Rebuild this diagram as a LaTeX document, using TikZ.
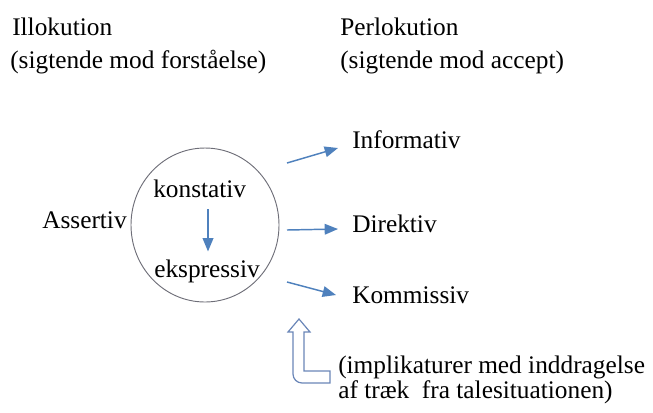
\documentclass[tikz,border=0pt]{standalone}
\usepackage{fontspec}
\setmainfont{Liberation Serif}
\usetikzlibrary{arrows.meta}
\definecolor{officeblue}{HTML}{4F81BD}
\definecolor{ringgray}{HTML}{6E6E78}
\definecolor{hollowblue}{HTML}{6A86B8}

\begin{document}
\begin{tikzpicture}[x=0.75pt,y=0.75pt,yscale=-1,xscale=1,
    txt/.style={anchor=base west,inner sep=0.75pt,font=\fontsize{19}{23}\selectfont},
    blarr/.style={draw=officeblue,line width=1.1pt,-{Triangle[length=10pt,width=8pt]}}]
        \useasboundingbox (0,0) rectangle (653,412);
        % Text Node
        \node [txt] (illo) at (11,35) {Illokution};
        % Text Node
        \node [txt] (illoSub) at (9,68) {(sigtende mod forståelse)};
        % Text Node
        \node [txt] (perlo) at (339,35) {Perlokution};
        % Text Node
        \node [txt] (perloSub) at (339,68) {(sigtende mod accept)};
        %Shape: Ellipse
        \draw [ringgray,line width=0.7pt] (205,225) ellipse (74 and 77);
        % Text Node
        \node [txt] (assertiv) at (41,228) {Assertiv};
        % Text Node
        \node [txt] (kon) at (152,197) {konstativ};
        % Text Node
        \node [txt] (eks) at (153,277) {ekspressiv};
        %Straight Lines
        \draw [blarr,shorten <=8pt,shorten >=5pt] (kon.south -| 208,0) -- (eks.north -| 208,0);
        % Text Node
        \node [txt] (inf) at (351,148) {Informativ};
        % Text Node
        \node [txt] (dir) at (351,232) {Direktiv};
        % Text Node
        \node [txt] (kom) at (351,303) {Kommissiv};
        \coordinate (infS) at (287,163);
        \coordinate (infT) at (338,148);
        \coordinate (dirS) at (287,230);
        \coordinate (dirT) at (338,229);
        \coordinate (komS) at (287,282);
        \coordinate (komT) at (336,295);
        %Straight Lines
        \draw [blarr] (infS) -- (infT);
        %Straight Lines
        \draw [blarr] (dirS) -- (dirT);
        %Straight Lines
        \draw [blarr] (komS) -- (komT);
        %Shape: Up Arrow bent
        \draw [hollowblue,fill=white,line width=0.9pt,line join=miter] (299,319) -- (310,332) -- (304,332) -- (304,371) -- (330,371) -- (330,383) -- (302,383) to[out=180,in=90] (293,374) -- (293,332) -- (288,332) -- cycle ;
        % Text Node
        \node [txt] (impl) at (337,373) {(implikaturer med inddragelse};
        % Text Node
        \node [txt] (implB) at (337,398) {af træk~~fra talesituationen)};
\end{tikzpicture}
\end{document}
